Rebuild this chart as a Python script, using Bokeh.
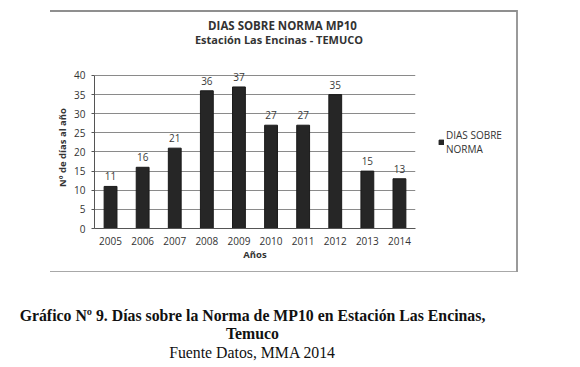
from bokeh.plotting import figure
from bokeh.models import (ColumnDataSource, LabelSet, Legend, LegendItem,
                          FixedTicker, Range1d)
from bokeh.layouts import column
from bokeh.core.properties import value
from bokeh.embed import file_html
from bokeh.resources import INLINE

years = ["2005", "2006", "2007", "2008", "2009", "2010", "2011", "2012", "2013", "2014"]
dias = [11, 16, 21, 36, 37, 27, 27, 35, 15, 13]
y_ticks = [0, 5, 10, 15, 20, 25, 30, 35, 40]

titles = ["DIAS SOBRE NORMA MP10", "Estación Las Encinas - TEMUCO"]
y_label = "Nº de días al año"
x_label = "Años"
series_name = "DIAS SOBRE\nNORMA"
captions = ["Gráfico Nº 9. Días sobre la Norma de MP10 en Estación Las Encinas,",
            "Temuco",
            "Fuente Datos, MMA 2014"]
caption_styles = ["bold", "bold", "normal"]

FONT = "Open Sans"
TXT = "#333333"
W = 576
LEFT = 94


def text_panel(height):
    f = figure(width=W, height=height, frame_width=W, frame_height=height,
               x_range=Range1d(0, W), y_range=Range1d(0, height),
               min_border_left=0, min_border_right=0,
               min_border_top=0, min_border_bottom=0,
               frame_align=False,
               output_backend="svg", toolbar_location=None,
               background_fill_color=None, border_fill_color=None,
               x_axis_type=None, y_axis_type=None)
    f.grid.visible = False
    f.outline_line_color = None
    return f


# ---------------- chart titles ----------------
TH = 60
top = text_panel(TH)
top_src = ColumnDataSource(dict(x=[282, 278.5], y=[TH - 25, TH - 39], text=titles,
                                size=["11.5px", "11px"]))
top.text(x="x", y="y", text="text", source=top_src, text_font_size="size",
         text_align="center", text_baseline="middle",
         text_font=value(FONT), text_font_style="bold", text_color=TXT)

# ---------------- chart ----------------
CH = 212
Y_END = 42.35
FH = 162
src = ColumnDataSource(dict(year=years, dias=dias, lbl=[str(v) for v in dias]))

p = figure(x_range=years, y_range=(0, Y_END), width=W, height=CH,
           frame_width=321, frame_height=FH,
           min_border_left=LEFT, min_border_right=W - LEFT - 321,
           min_border_top=6, min_border_bottom=CH - 6 - FH,
           frame_align=False,
           output_backend="svg", toolbar_location=None,
           background_fill_color="white", border_fill_color=None)
p.outline_line_color = None
p.x_range.range_padding = 0

r = p.vbar(x="year", top="dias", width=0.4, source=src,
           fill_color="#262626", line_color="#1a1a1a")

labels = LabelSet(x="year", y="dias", text="lbl", source=src,
                  text_align="center", text_baseline="bottom", y_offset=6,
                  text_font=value(FONT), text_font_size="10px", text_color="#3a3a3a")
p.add_layout(labels)

p.yaxis.ticker = FixedTicker(ticks=y_ticks)
p.yaxis.bounds = (0, 40)
p.yaxis.axis_label = y_label
p.yaxis.axis_label_text_font = FONT
p.yaxis.axis_label_text_font_size = "9.5px"
p.yaxis.axis_label_text_font_style = "bold"
p.yaxis.axis_label_text_color = TXT
p.yaxis.axis_label_standoff = 2
p.yaxis.major_label_text_font = FONT
p.yaxis.major_label_text_font_size = "10px"
p.yaxis.major_label_text_color = TXT
p.yaxis.axis_line_color = "#555555"
p.yaxis.major_tick_line_color = "#555555"
p.yaxis.major_tick_out = 3
p.yaxis.major_tick_in = 0
p.yaxis.minor_tick_line_color = None
p.yaxis.major_label_standoff = 6

p.xaxis.axis_label = x_label
p.xaxis.axis_label_text_font = FONT
p.xaxis.axis_label_text_font_size = "9.5px"
p.xaxis.axis_label_text_font_style = "bold"
p.xaxis.axis_label_text_color = TXT
p.xaxis.axis_label_standoff = 0
p.xaxis.major_label_text_font = FONT
p.xaxis.major_label_text_font_size = "10px"
p.xaxis.major_label_text_color = TXT
p.xaxis.axis_line_color = "#555555"
p.xaxis.major_tick_line_color = None
p.xaxis.major_label_standoff = 2

p.xgrid.grid_line_color = None
p.ygrid.grid_line_color = "#8a8a8a"
p.ygrid.grid_line_width = 1

legend = Legend(items=[LegendItem(label=series_name, renderers=[r])],
                location=(23, 72), orientation="vertical",
                border_line_color=None, background_fill_alpha=0,
                padding=0, margin=0, glyph_width=6, glyph_height=6,
                label_standoff=2, label_text_font=FONT,
                label_text_line_height=0.85,
                label_text_font_size="10px", label_text_color=TXT)
p.add_layout(legend, "right")

# ---------------- caption ----------------
BH = 91
cap = text_panel(BH)
cap_src = ColumnDataSource(dict(x=[252, 252, 252], y=[BH - 43, BH - 61, BH - 80],
                                text=captions, style=caption_styles))
cap.text(x="x", y="y", text="text", source=cap_src, text_font_style="style",
         text_align="center", text_baseline="middle",
         text_font=value("Liberation Serif"), text_font_size="15.8px",
         text_color="#111111")

# scanned box around the chart (top, right and bottom edges)
box_css = {
    "background-image": ("linear-gradient(#8f8f8f, #8f8f8f), "
                         "linear-gradient(#9a9a9a, #9a9a9a), "
                         "linear-gradient(#a8a8a8, #a8a8a8)"),
    "background-size": "467px 2px, 2px 262px, 468px 1px",
    "background-position": "50px 10px, 516px 10px, 50px 271px",
    "background-repeat": "no-repeat",
}

layout = column(top, p, cap, spacing=0, styles=box_css)
open("out.html", "w").write(file_html(layout, INLINE))
